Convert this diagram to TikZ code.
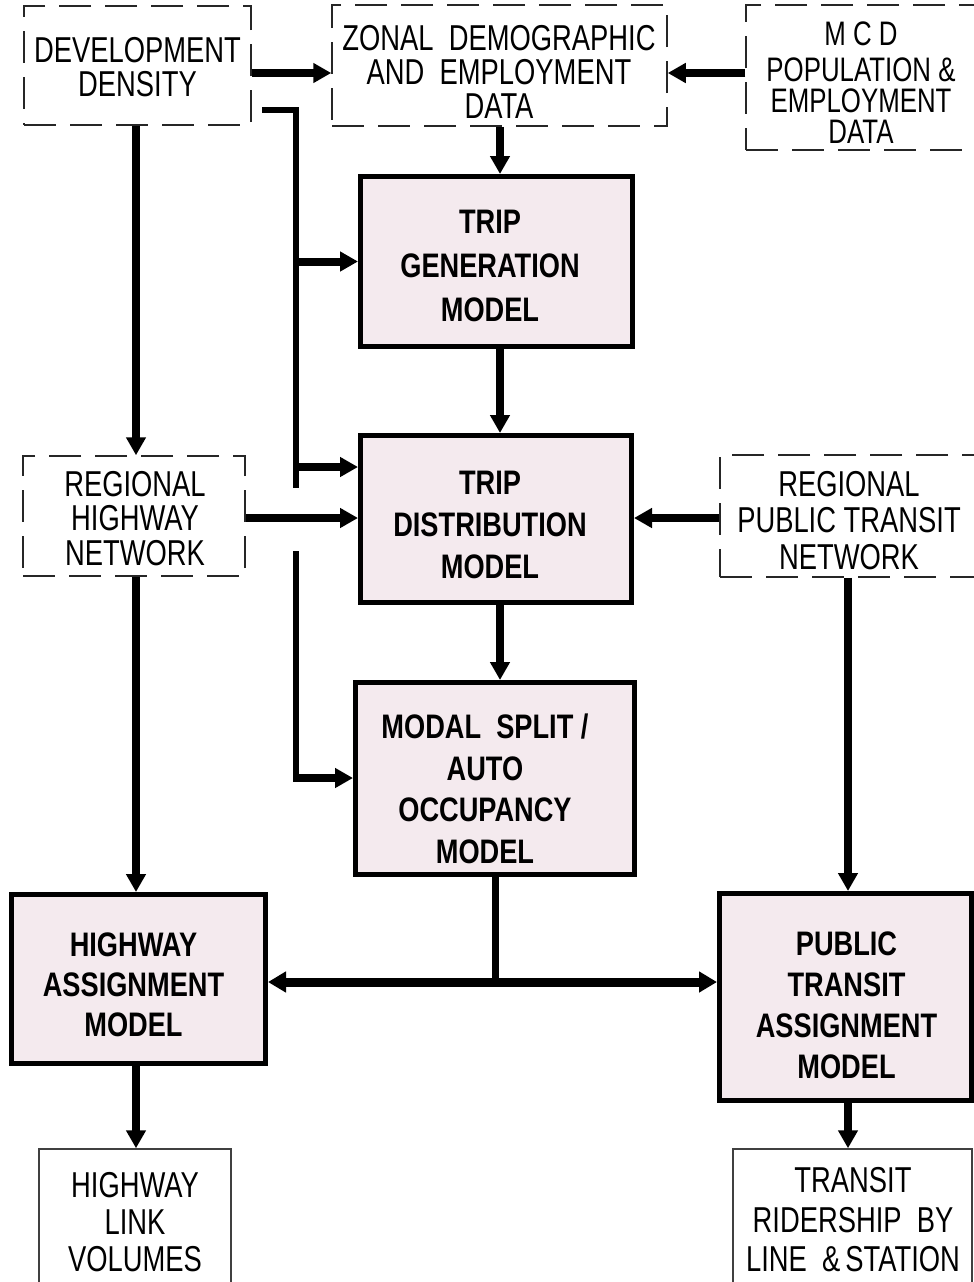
\documentclass[tikz,border=0pt]{standalone}
\usepackage{fontspec}
\newfontfamily\regf[FakeStretch=0.76]{Liberation Sans}
\newfontfamily\bldf[FakeStretch=0.80]{Liberation Sans}
\usetikzlibrary{arrows.meta}
\definecolor{modelpink}{RGB}{244,234,238}
\tikzset{
  dbox/.style={draw=black!85, line width=1.5pt, dash pattern=on 32pt off 14pt, inner sep=0pt},
  mbox/.style={draw=black, line width=5pt, fill=modelpink, inner sep=0pt},
  obox/.style={draw=black!75, line width=1.5pt, inner sep=0pt},
  rtext/.style={align=center, inner sep=0pt},
  btext/.style={align=center, inner sep=0pt},
  arr/.style={line width=8pt, -{Triangle[length=18pt,width=19pt]}},
  bracket/.style={line width=6pt, line join=miter},
}
\newcommand{\rfnt}[1]{\regf\fontsize{36}{#1}\selectfont}
\newcommand{\bfnt}[1]{\bldf\bfseries\fontsize{34}{#1}\selectfont}
\begin{document}
\begin{tikzpicture}[x=1pt,y=-1pt]
\useasboundingbox (0,0) rectangle (974,1282);
\fill[white] (0,0) rectangle (974,1282);

% ---- input (dashed) boxes
\node[dbox, minimum width=227pt, minimum height=119pt] (dev) at (137.5,65.5) {};
\node[rtext, font=\rfnt{34}] (devt) at (137.5,67.5) {DEVELOPMENT\\DENSITY};

\node[dbox, minimum width=335pt, minimum height=121pt] (zonal) at (499.5,65.5) {};
\node[rtext, font=\rfnt{34}] (zonalt) at (499,71.5) {ZONAL\ \ DEMOGRAPHIC\\AND\ \ EMPLOYMENT\\DATA};

\node[dbox, minimum width=234pt, minimum height=145pt] (mcd) at (863,77.5) {};
\node[rtext, font={\regf\fontsize{34}{31}\selectfont}] (mcdt) at (861,82.5) {M C D\\[5pt]POPULATION \&\\EMPLOYMENT\\DATA};

\node[dbox, minimum width=222pt, minimum height=120pt] (rhn) at (134,516) {};
\node[rtext, font=\rfnt{34.5}] (rhnt) at (135,518.5) {REGIONAL\\HIGHWAY\\NETWORK};

\node[dbox, minimum width=260pt, minimum height=122pt] (rptn) at (850,516) {};
\node[rtext, font=\rfnt{36.5}] (rptnt) at (849,520.5) {REGIONAL\\PUBLIC TRANSIT\\NETWORK};

% ---- model boxes
\node[mbox, minimum width=272pt, minimum height=170pt] (tg) at (496.5,261.5) {};
\node[btext, font=\bfnt{44}] (tgt) at (490,266) {TRIP\\GENERATION\\MODEL};

\node[mbox, minimum width=271pt, minimum height=167pt] (td) at (496,519) {};
\node[btext, font=\bfnt{42}] (tdt) at (490,524.5) {TRIP\\DISTRIBUTION\\MODEL};

\node[mbox, minimum width=279pt, minimum height=192pt] (ms) at (495,778.5) {};
\node[btext, font=\bfnt{41.5}] (mst) at (485,789) {MODAL\ \ SPLIT /\\AUTO\\OCCUPANCY\\MODEL};

\node[mbox, minimum width=254pt, minimum height=169pt] (ha) at (138.5,979) {};
\node[btext, font=\bfnt{40}] (hat) at (133.5,985) {HIGHWAY\\ASSIGNMENT\\MODEL};

\node[mbox, minimum width=252pt, minimum height=207pt] (pta) at (845.5,997) {};
\node[btext, font=\bfnt{41}] (ptat) at (846.5,1005.5) {PUBLIC\\TRANSIT\\ASSIGNMENT\\MODEL};

% ---- output boxes
\node[obox, minimum width=192pt, minimum height=147pt] (hlv) at (135,1222.5) {};
\node[rtext, font=\rfnt{37}] (hlvt) at (135,1222.5) {HIGHWAY\\LINK\\VOLUMES};

\node[obox, minimum width=239pt, minimum height=151pt] (trl) at (852.5,1224.5) {};
\node[rtext, font=\rfnt{39.5}] (trlt) at (853,1220) {TRANSIT\\RIDERSHIP\ \ BY\\LINE\ \ \&\hspace{5pt}STATION};

% ---- helper coordinates
\coordinate (cx) at (500,0);
\coordinate (lx) at (136,0);
\coordinate (rx) at (848,0);
\coordinate (mx) at (495,0);
\coordinate (ty) at (0,73);
\coordinate (ry) at (0,518);
\coordinate (split) at (495,982);
\coordinate (b0) at (262,110);
\coordinate (bc) at (296,110);
\coordinate (b1) at (296,488);
\coordinate (b2) at (296,551);
\coordinate (b3) at (296,778);
\coordinate (tdin) at ([yshift=52pt]td.west);

% ---- connectors
\draw[arr] (dev.east |- ty) -- (zonal.west |- ty);
\draw[arr] (mcd.west |- ty) -- (zonal.east |- ty);
\draw[arr] (zonal.south -| cx) -- (tg.north -| cx);
\draw[arr] (tg.south -| cx) -- (td.north -| cx);
\draw[arr] (td.south -| cx) -- (ms.north -| cx);

\draw[arr] (dev.south -| lx) -- (rhn.north -| lx);
\draw[arr] (rhn.south -| lx) -- (ha.north -| lx);
\draw[arr] (ha.south -| lx) -- (hlv.north -| lx);

\draw[arr] (rhn.east |- ry) -- (td.west |- ry);
\draw[arr] (rptn.west |- ry) -- (td.east |- ry);

\draw[arr] (rptn.south -| rx) -- (pta.north -| rx);
\draw[arr] (pta.south -| rx) -- (trl.north -| rx);

% bracket from development density
\draw[bracket] (b0) -- (bc) -- (b1);
\draw[arr] ([xshift=-3pt]bc |- tg.west) -- (tg.west);
\draw[arr] ([xshift=-3pt]bc |- tdin) -- (tdin);
\draw[bracket] (b2) -- (b3);
\draw[arr] ([xshift=-3pt]b3) -- (ms.west |- b3);

% split to assignment models
\draw[line width=7pt] (ms.south -| mx) -- (split);
\draw[line width=9pt, {Triangle[length=18pt,width=20pt]}-{Triangle[length=18pt,width=20pt]}] (ha.east |- split) -- (pta.west |- split);
\end{tikzpicture}
\end{document}
